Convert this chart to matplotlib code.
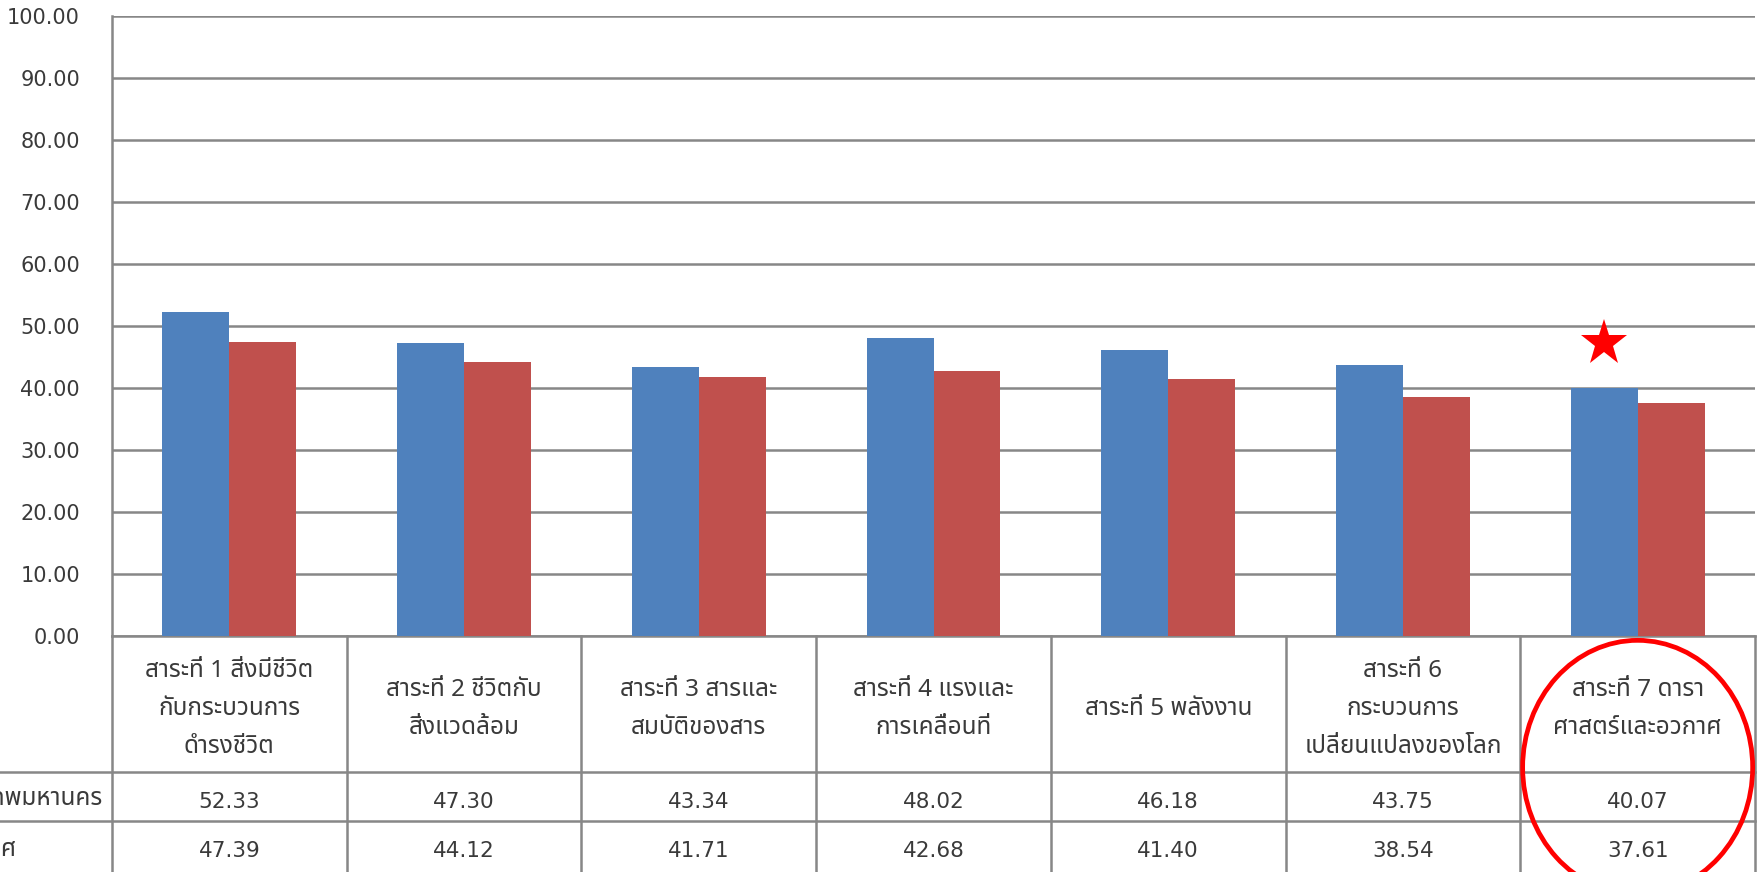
import matplotlib
matplotlib.use("Agg")
import matplotlib.pyplot as plt
from matplotlib import font_manager as fm
from matplotlib.patches import Ellipse
from matplotlib.transforms import blended_transform_factory
import numpy as np

# ---------------- data ----------------
categories = [
    "สาระที่ 1 สิ่งมีชีวิต\nกับกระบวนการ\nดำรงชีวิต",
    "สาระที่ 2 ชีวิตกับ\nสิ่งแวดล้อม",
    "สาระที่ 3 สารและ\nสมบัติของสาร",
    "สาระที่ 4 แรงและ\nการเคลื่อนที่",
    "สาระที่ 5 พลังงาน",
    "สาระที่ 6\nกระบวนการ\nเปลี่ยนแปลงของโลก",
    "สาระที่ 7 ดารา\nศาสตร์และอวกาศ",
]
series_names = ["กรุงเทพมหานคร", "ประเทศ"]
bangkok = [52.33, 47.30, 43.34, 48.02, 46.18, 43.75, 40.07]
country = [47.39, 44.12, 41.71, 42.68, 41.40, 38.54, 37.61]
y_ticks = [0, 10, 20, 30, 40, 50, 60, 70, 80, 90, 100]
highlight_index = 6

# ---------------- fonts ----------------
def find_thai_font():
    prefs = ['Tahoma', 'Noto Sans Thai', 'Noto Sans Thai UI', 'Loma', 'Garuda',
             'Sarabun', 'Leelawadee UI', 'Kinnari', 'Norasi', 'Waree', 'Umpush',
             'Laksaman', 'Noto Looped Thai', 'Noto Serif Thai']
    names = {f.name for f in fm.fontManager.ttflist}
    for p in prefs:
        if p in names:
            return p
    try:
        from fontTools.ttLib import TTFont
    except Exception:
        return None
    for f in fm.fontManager.ttflist:
        try:
            tt = TTFont(f.fname, fontNumber=0, lazy=True)
            cmap = tt.getBestCmap()
            if cmap and 0x0E2A in cmap and 0x0E35 in cmap and 0x0E48 in cmap:
                return f.name
        except Exception:
            pass
    return None

thai = find_thai_font()
thai_family = ([thai] if thai else []) + ['DejaVu Sans']
num_family = ['DejaVu Sans']
plt.rcParams['font.family'] = thai_family

TXT = '#3a3a3a'
GRID = '#878787'
BLUE = '#4F81BD'
RED = '#C0504D'

W, H = 1760, 872
fig = plt.figure(figsize=(W / 100, H / 100), dpi=100)
fig.patch.set_facecolor('white')

ax_left, ax_right, ax_top, ax_bot = 112, 1755, 16, 636
ax = fig.add_axes([ax_left / W, (H - ax_bot) / H,
                   (ax_right - ax_left) / W, (ax_bot - ax_top) / H])

n = len(categories)
x = np.arange(n)
bw = 0.285
ax.bar(x - bw / 2, bangkok, bw, color=BLUE, zorder=3)
ax.bar(x + bw / 2, country, bw, color=RED, zorder=3)

ax.set_xlim(-0.5, n - 0.5)
ax.set_ylim(0, 100)
ax.set_yticks(y_ticks)
ax.set_yticklabels([f"{v:.2f}" for v in y_ticks], family=num_family,
                   fontsize=15, color=TXT)
ax.tick_params(axis='y', length=0, pad=23)
ax.set_xticks([])
ax.grid(axis='y', color=GRID, linewidth=1.8, zorder=1)
for s in ['top', 'right', 'bottom']:
    ax.spines[s].set_visible(False)
ax.spines['left'].set_color(GRID)
ax.spines['left'].set_linewidth(1.8)

# ---------------- data table below ----------------
tr = blended_transform_factory(ax.transData, ax.transAxes)
ppx = ax_bot - ax_top  # pixel height of axes

def yf(py):
    return (ax_bot - py) / ppx

y_head_bot = yf(772)
y_row1_bot = yf(821)
y_bottom = yf(900)

line_kw = dict(color=GRID, linewidth=1.8, clip_on=False, transform=tr, zorder=2)
ax.plot([-0.5, n - 0.5], [0, 0], **line_kw)
x_far_left = -0.5 - ax_left / ((ax_right - ax_left) / n)
for yy in (y_head_bot, y_row1_bot):
    ax.plot([x_far_left, n - 0.5], [yy, yy], **line_kw)
for k in range(n + 1):
    ax.plot([k - 0.5, k - 0.5], [0, y_bottom], **line_kw)

# header texts
for i, lab in enumerate(categories):
    ax.text(i, yf(709), lab, transform=tr, ha='center', va='center',
            fontsize=17.5, color=TXT, linespacing=1.8, family=thai_family,
            clip_on=False)

# values
for i in range(n):
    ax.text(i, yf(802), f"{bangkok[i]:.2f}", transform=tr, ha='center',
            va='center', fontsize=15.5, color=TXT, family=num_family, clip_on=False)
    ax.text(i, yf(851), f"{country[i]:.2f}", transform=tr, ha='center',
            va='center', fontsize=15.5, color=TXT, family=num_family, clip_on=False)

# row labels: left aligned in a column that is partly off the left edge
renderer = fig.canvas.get_renderer()
t0 = fig.text(0, (H - 800) / H, series_names[0], ha='left', va='center',
              fontsize=17.5, color=TXT, family=thai_family)
w0 = t0.get_window_extent(renderer=renderer).width
x_start = 103 - w0
t0.set_x(x_start / W)
fig.text(x_start / W, (H - 850) / H, series_names[1], ha='left', va='center',
         fontsize=17.5, color=TXT, family=thai_family)

# ---------------- annotations ----------------
ax.plot(highlight_index - bw / 2, 47.3, marker='*', markersize=35,
        color='red', markeredgewidth=0, zorder=5, clip_on=False)
ell = Ellipse((highlight_index, -21.2), 0.98, 41.0, transform=ax.transData,
              fill=False, edgecolor='red', linewidth=3.4, clip_on=False, zorder=6)
ax.add_patch(ell)

fig.savefig('out.png', dpi=100, facecolor='white')
